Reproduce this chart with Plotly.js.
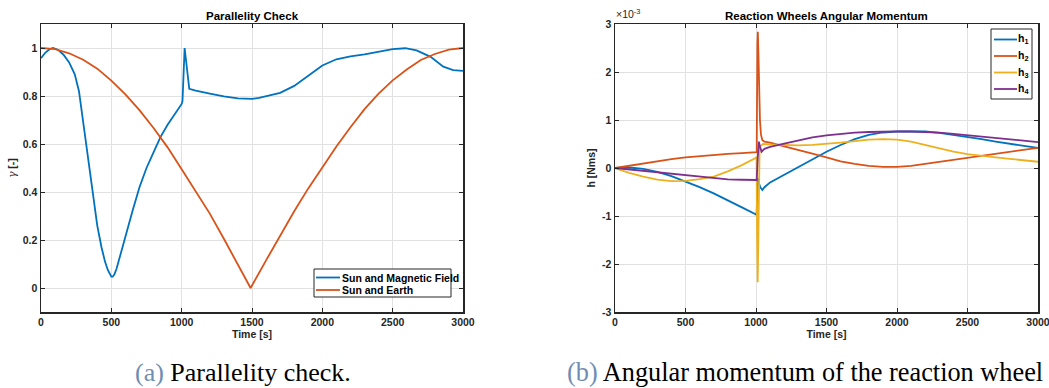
<!DOCTYPE html>
<html>
<head>
<meta charset="utf-8">
<script src="https://cdn.plot.ly/plotly-3.0.1.min.js"></script>
<style>
  html, body { margin: 0; padding: 0; background: #ffffff; }
  #chart { width: 1049px; height: 388px; }
</style>
</head>
<body>
<div id="chart"></div>
<script>
// ---------- Panel (a): Parallelity Check ----------
var tMag = [0,30,60,85,120,160,200,240,270,300,330,365,400,430,455,475,490,500,510,522,537,555,600,650,700,750,800,850,900,950,1000,1006,1021,1054,1100,1200,1300,1400,1500,1550,1600,1700,1800,1900,2000,2100,2200,2300,2400,2500,2590,2670,2770,2860,2930,3000];
var gammaMag = [0.958,0.98,0.995,1.0,0.993,0.972,0.94,0.89,0.82,0.69,0.56,0.40,0.26,0.17,0.11,0.075,0.055,0.047,0.047,0.057,0.08,0.12,0.22,0.32,0.42,0.50,0.565,0.63,0.68,0.725,0.767,0.78,1.0,0.83,0.822,0.81,0.798,0.79,0.788,0.792,0.80,0.813,0.842,0.885,0.927,0.953,0.965,0.973,0.983,0.995,0.999,0.99,0.963,0.922,0.908,0.905];

var tEarth = [0,100,200,300,400,500,600,700,800,900,1000,1100,1200,1300,1400,1490,1600,1700,1800,1900,2000,2100,2200,2300,2400,2500,2600,2700,2800,2900,3000];
var gammaEarth = [1.0,0.995,0.978,0.951,0.914,0.864,0.807,0.741,0.667,0.586,0.495,0.405,0.31,0.205,0.095,0.0,0.115,0.22,0.32,0.415,0.505,0.59,0.67,0.745,0.81,0.865,0.91,0.95,0.975,0.993,1.0];

var seriesNamesA = ['Sun and Magnetic Field', 'Sun and Earth'];
var xTicks = [0,500,1000,1500,2000,2500,3000];
var yTicksA = [0,0.2,0.4,0.6,0.8,1];
var yTickTextA = ['0','0.2','0.4','0.6','0.8','1'];

// ---------- Panel (b): Reaction Wheels Angular Momentum (units of 1e-3 Nms) ----------
var tH1 = [0,100,200,300,400,500,600,700,800,900,1000,1004,1009,1014,1020,1030,1045,1060,1100,1200,1300,1400,1454,1500,1600,1700,1800,1900,2000,2100,2200,2300,2400,2500,2600,2700,2800,2900,3000];
var h1 = [0,0.01,-0.02,-0.08,-0.17,-0.28,-0.4,-0.53,-0.67,-0.82,-0.97,-0.98,-0.5,-0.22,-0.3,-0.4,-0.46,-0.4,-0.3,-0.14,0.02,0.18,0.27,0.34,0.48,0.6,0.69,0.74,0.76,0.765,0.76,0.73,0.69,0.65,0.6,0.55,0.5,0.46,0.42];

var tH2 = [0,100,200,300,400,500,600,700,800,900,1000,1005,1010,1013,1017,1022,1028,1035,1045,1060,1100,1200,1300,1400,1500,1600,1700,1800,1900,2000,2100,2200,2300,2400,2500,2600,2700,2800,2900,3000];
var h2 = [0,0.05,0.1,0.145,0.185,0.22,0.25,0.275,0.295,0.31,0.32,0.33,2.6,2.84,2.4,1.6,1.0,0.7,0.58,0.55,0.53,0.45,0.38,0.3,0.22,0.14,0.085,0.045,0.025,0.025,0.045,0.085,0.135,0.175,0.215,0.255,0.3,0.34,0.38,0.42];

var tH3 = [0,100,200,300,400,500,600,700,800,900,1000,1004,1008,1012,1016,1020,1025,1030,1050,1100,1200,1300,1400,1500,1600,1700,1800,1900,2000,2100,2200,2300,2400,2500,2600,2700,2800,2900,3000];
var h3 = [0,-0.1,-0.18,-0.24,-0.275,-0.27,-0.23,-0.18,-0.07,0.06,0.21,0.24,-1.5,-2.38,-1.6,-0.3,0.3,0.45,0.5,0.49,0.48,0.47,0.48,0.5,0.53,0.56,0.59,0.6,0.59,0.55,0.48,0.41,0.34,0.29,0.25,0.22,0.19,0.16,0.13];

var tH4 = [0,100,200,300,400,500,600,700,800,900,1000,1005,1012,1020,1028,1040,1060,1100,1200,1300,1400,1500,1600,1700,1800,1900,2000,2100,2200,2300,2400,2500,2600,2700,2800,2900,3000];
var h4 = [0,-0.03,-0.06,-0.09,-0.12,-0.15,-0.185,-0.215,-0.235,-0.245,-0.25,-0.25,0.2,0.55,0.45,0.34,0.4,0.44,0.51,0.58,0.64,0.68,0.71,0.735,0.75,0.76,0.765,0.76,0.75,0.735,0.71,0.68,0.65,0.62,0.59,0.57,0.54];

var wheelNames = ['h<sub>1</sub>','h<sub>2</sub>','h<sub>3</sub>','h<sub>4</sub>'];
var yTicksB = [-3,-2,-1,0,1,2,3];
var yTickTextB = ['-3','-2','-1','0','1','2','3'];

// ---------- styling ----------
var C = ['#0072BD','#D95319','#EDB120','#7E2F8E'];
var LW = 1.8;
var axisCol = '#262626';
var sans = 'Liberation Sans, Arial, sans-serif';
var tickFont = {family:sans, size:10.5, color:axisCol, weight:'bold'};
var labFont = {family:sans, size:10.5, color:axisCol, weight:'bold'};

function axBase(extra){
  var a = {
    showline:true, linecolor:axisCol, linewidth:1.5, mirror:'ticks',
    ticks:'inside', ticklen:4, tickwidth:1, tickcolor:axisCol,
    showgrid:true, gridcolor:'#e1e1e1', gridwidth:1, zeroline:false,
    tickfont:tickFont, ticklabeloverflow:'allow', fixedrange:true
  };
  for (var k in extra) a[k] = extra[k];
  return a;
}

var traces = [
  {x:tMag, y:gammaMag, name:seriesNamesA[0], type:'scatter', mode:'lines', line:{color:C[0], width:LW}, xaxis:'x', yaxis:'y'},
  {x:tEarth, y:gammaEarth, name:seriesNamesA[1], type:'scatter', mode:'lines', line:{color:C[1], width:LW}, xaxis:'x', yaxis:'y'},
  {x:tH1, y:h1, name:wheelNames[0], type:'scatter', mode:'lines', line:{color:C[0], width:LW}, xaxis:'x2', yaxis:'y2'},
  {x:tH2, y:h2, name:wheelNames[1], type:'scatter', mode:'lines', line:{color:C[1], width:LW}, xaxis:'x2', yaxis:'y2'},
  {x:tH3, y:h3, name:wheelNames[2], type:'scatter', mode:'lines', line:{color:C[2], width:LW}, xaxis:'x2', yaxis:'y2'},
  {x:tH4, y:h4, name:wheelNames[3], type:'scatter', mode:'lines', line:{color:C[3], width:LW}, xaxis:'x2', yaxis:'y2'}
];

var W = 1049, H = 388;
function px(x){ return x / W; }
function py(y){ return 1 - y / H; }

// ---------- MATLAB-style legend boxes (compact) ----------
var shapes = [];
var annotations = [];
function addLegend(box, lineX0, lineX1, textX, rowsY, labels, colors){
  shapes.push({type:'rect', xref:'paper', yref:'paper', x0:px(box[0]), x1:px(box[1]), y0:py(box[3]), y1:py(box[2]),
    line:{color:axisCol, width:1}, fillcolor:'#ffffff', layer:'above'});
  for (var i = 0; i < labels.length; i++){
    shapes.push({type:'line', xref:'paper', yref:'paper', x0:px(lineX0), x1:px(lineX1), y0:py(rowsY[i]), y1:py(rowsY[i]),
      line:{color:colors[i], width:LW}, layer:'above'});
    annotations.push({xref:'paper', yref:'paper', x:px(textX), y:py(rowsY[i]), xanchor:'left', yanchor:'middle',
      showarrow:false, text:'<b>' + labels[i] + '</b>', font:{family:sans, size:10.5, color:'#000'}});
  }
}
addLegend([314,451,269,297], 316, 340, 340, [277.5,290], seriesNamesA, [C[0],C[1]]);
addLegend([991,1032,29,99], 994, 1017, 1016, [39.5,56,72.5,89], wheelNames, C);

annotations.push(
  {xref:'paper', yref:'paper', x:px(252), y:py(16), xanchor:'center', yanchor:'middle', showarrow:false,
    text:'<b>Parallelity Check</b>', font:{family:sans, size:11.5, color:'#000'}},
  {xref:'paper', yref:'paper', x:px(826), y:py(16), xanchor:'center', yanchor:'middle', showarrow:false,
    text:'<b>Reaction Wheels Angular Momentum</b>', font:{family:sans, size:11.5, color:'#000'}},
  {xref:'paper', yref:'paper', x:px(614), y:py(22), xanchor:'left', yanchor:'bottom', showarrow:false,
    text:'×10<sup>-3</sup>', font:{family:sans, size:10.5, color:axisCol}},
  {xref:'paper', yref:'paper', x:px(133), y:py(372), xanchor:'left', yanchor:'middle', showarrow:false,
    text:'<span style="color:#6f8db3">(a)</span> Parallelity check.', font:{family:'Liberation Serif, Times New Roman, serif', size:26, color:'#000'}},
  {xref:'paper', yref:'paper', x:px(565), y:py(372), xanchor:'left', yanchor:'middle', showarrow:false,
    text:'<span style="color:#6f8db3">(b)</span> Angular momentum of the reaction wheel', font:{family:'Liberation Serif, Times New Roman, serif', size:26.3, color:'#000'}}
);

var layout = {
  width:W, height:H, margin:{l:0, r:0, t:0, b:0},
  paper_bgcolor:'#ffffff', plot_bgcolor:'#ffffff',
  showlegend:false,
  font:{family:sans, color:axisCol},
  xaxis: axBase({domain:[px(41), px(463)], range:[0,3000], tickvals:xTicks, anchor:'y',
    title:{text:'Time [s]', font:labFont, standoff:2}}),
  yaxis: axBase({domain:[py(312), py(24)], range:[-0.1,1.1], tickvals:yTicksA, ticktext:yTickTextA, anchor:'x',
    title:{text:'<span style="font-family:\'DejaVu Serif\',serif;font-weight:normal"><i>γ</i></span> [-]', font:labFont, standoff:4}}),
  xaxis2: axBase({domain:[px(615), px(1038)], range:[0,3000], tickvals:xTicks, anchor:'y2',
    title:{text:'Time [s]', font:labFont, standoff:2}}),
  yaxis2: axBase({domain:[py(312), py(24)], range:[-3,3], tickvals:yTicksB, ticktext:yTickTextB, anchor:'x2',
    title:{text:'h [Nms]', font:labFont, standoff:4}}),
  shapes: shapes,
  annotations: annotations
};

Plotly.newPlot('chart', traces, layout, {displayModeBar:false, staticPlot:true});
</script>
</body>
</html>
